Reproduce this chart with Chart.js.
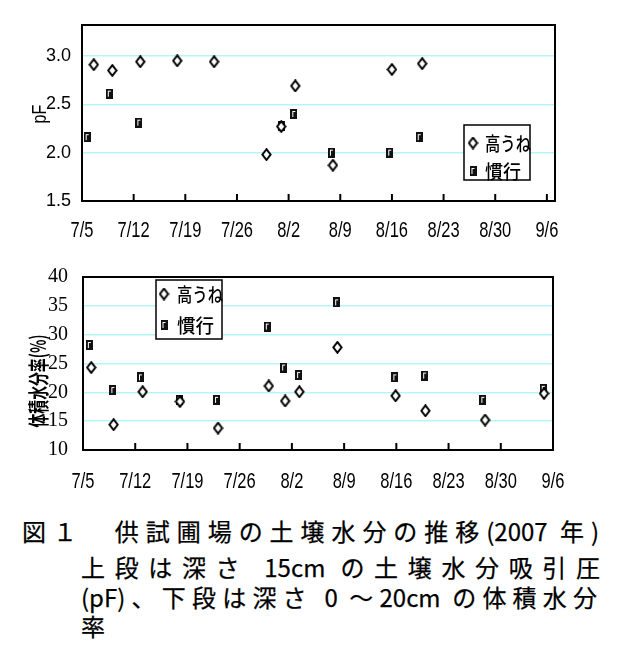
<!DOCTYPE html>
<html lang="ja">
<head>
<meta charset="utf-8">
<script src="https://cdn.jsdelivr.net/npm/chart.js@4.4.0/dist/chart.umd.min.js"></script>
<style>
body { margin: 0; background: #fff; width: 617px; height: 663px; position: relative; overflow: hidden; font-family: "Noto Sans CJK JP", sans-serif; }
.box { position: absolute; left: 0; width: 617px; }
#top { top: 0; height: 250px; }
#bot { top: 250px; height: 260px; }
.cap { position: absolute; font-size: 24px; line-height: 32px; color: #000; text-align: justify; text-align-last: justify; -webkit-text-stroke: 0.25px #000; white-space: nowrap; }
</style>
</head>
<body>
<div class="box" id="top"><canvas id="c1"></canvas></div>
<div class="box" id="bot"><canvas id="c2"></canvas></div>
<div class="cap" style="left:22px;top:515px;width:577px">図１　供試圃場の土壌水分の推移(2007 年)</div>
<div class="cap" style="left:81px;top:551px;width:519px">上段は深さ 15cm の土壌水分吸引圧</div>
<div class="cap" style="left:81px;top:581px;width:516px">(pF)、下段は深さ 0 ～20cm の体積水分</div>
<div class="cap" style="left:81px;top:610px;text-align:left;text-align-last:left">率</div>
<script>
// x は 7/5 からの日数
const xTickDays = [0, 7, 14, 21, 28, 35, 42, 49, 56, 63]
const xTickLabels = ['7/5', '7/12', '7/19', '7/26', '8/2', '8/9', '8/16', '8/23', '8/30', '9/6']

const seriesNames = ['高うね', '慣行']

// 上段 pF
const pfTicks = [1.5, 2.0, 2.5, 3.0]
const pfRidgeDays = [1.6, 4.1, 7.9, 12.9, 17.9, 25.0, 27.0, 28.9, 34.0, 42.0, 46.1]
const pfRidge = [2.91, 2.85, 2.94, 2.95, 2.94, 1.98, 2.27, 2.69, 1.87, 2.86, 2.92]
const pfConvDays = [0.7, 3.7, 7.7, 27.0, 28.7, 33.8, 41.7, 45.7]
const pfConv = [2.16, 2.61, 2.31, 2.28, 2.40, 2.00, 2.00, 2.16]

// 下段 体積水分率
const vwTicks = [10, 15, 20, 25, 30, 35, 40]
const vwRidgeDays = [1.1, 4.1, 8.0, 13.0, 18.1, 24.9, 27.1, 29.0, 34.1, 41.9, 45.9, 53.9, 61.8]
const vwRidge = [24.3, 14.4, 20.1, 18.4, 13.8, 21.1, 18.5, 20.1, 27.8, 19.4, 16.8, 15.2, 19.8]
const vwConvDays = [0.85, 4.0, 7.7, 12.9, 17.9, 24.7, 26.9, 28.9, 34.0, 41.8, 45.8, 53.6, 61.7]
const vwConv = [28.2, 20.4, 22.6, 18.7, 18.7, 31.4, 24.3, 23.0, 35.6, 22.6, 22.9, 18.7, 20.6]

const gridColor = '#b5f5fa'

function diamond() {
    const c = document.createElement('canvas')
    c.width = 11; c.height = 13
    const g = c.getContext('2d')
    g.beginPath()
    g.moveTo(5.5, 1.2); g.lineTo(9.6, 6.5); g.lineTo(5.5, 11.8); g.lineTo(1.4, 6.5); g.closePath()
    g.fillStyle = '#fff'; g.fill()
    g.strokeStyle = '#000'; g.lineWidth = 2; g.stroke()
    return c
}

function block() {
    const c = document.createElement('canvas')
    c.width = 7; c.height = 10
    const g = c.getContext('2d')
    g.fillStyle = '#111'; g.fillRect(0, 0, 7, 10)
    g.fillStyle = '#fff'
    g.fillRect(2, 2, 1, 6)
    g.fillRect(2, 2, 3, 1)
    return c
}

const markers = [diamond(), block()]

const extras = {
    id: 'extras',
    beforeDatasetsDraw(chart, args, o) {
        const { ctx, chartArea: a, scales: { x } } = chart
        ctx.save()
        ctx.strokeStyle = '#000'
        ctx.lineWidth = 2
        ctx.strokeRect(a.left, a.top, a.right - a.left, a.bottom - a.top)
        ctx.font = o.xFont
        ctx.fillStyle = '#000'
        ctx.textAlign = 'center'
        ctx.textBaseline = 'middle'
        x.ticks.forEach((t, i) => {
            const px = x.getPixelForValue(t.value)
            ctx.beginPath()
            ctx.moveTo(px, a.bottom)
            ctx.lineTo(px, a.bottom - 7)
            ctx.stroke()
            const w = ctx.measureText(xTickLabels[i]).width
            ctx.fillText(xTickLabels[i], px, a.bottom + o.xLabelOffset, w * 0.75)
        })
        // 縦軸タイトル
        ctx.translate(o.titleX, o.titleY)
        ctx.rotate(-Math.PI / 2)
        ctx.font = o.titleFont
        ctx.fillText(o.title, 0, 0, o.titleWidth)
        ctx.restore()
    },
    afterDraw(chart, args, o) {
        const ctx = chart.ctx
        const L = o.legend
        ctx.save()
        ctx.fillStyle = '#fff'
        ctx.fillRect(L.x, L.y, L.w, L.h)
        ctx.strokeStyle = '#000'
        ctx.lineWidth = 1.5
        ctx.strokeRect(L.x, L.y, L.w, L.h)
        ctx.font = '500 19px "Noto Sans CJK JP"'
        ctx.textBaseline = 'middle'
        ctx.fillStyle = '#000'
        chart.data.datasets.forEach((ds, i) => {
            const m = markers[i]
            const cy = L.y + L.rows[i]
            ctx.drawImage(m, L.x + L.mx - m.width / 2, cy - m.height / 2)
            ctx.fillText(ds.label, L.x + L.tx, cy + 1, L.textW[i])
        })
        ctx.restore()
    },
}

function makeChart(id, opt) {
    return new Chart(document.getElementById(id), {
        type: 'scatter',
        data: {
            datasets: [
                {
                    label: seriesNames[0],
                    data: opt.ridgeDays.map((d, i) => ({ x: d, y: opt.ridge[i] })),
                    pointStyle: markers[0],
                },
                {
                    label: seriesNames[1],
                    data: opt.convDays.map((d, i) => ({ x: d, y: opt.conv[i] })),
                    pointStyle: markers[1],
                },
            ],
        },
        options: {
            animation: false,
            responsive: true,
            maintainAspectRatio: false,
            devicePixelRatio: 1,
            events: [],
            layout: { padding: opt.padding },
            plugins: {
                legend: { display: false },
                tooltip: { enabled: false },
                extras: opt.extras,
            },
            scales: {
                x: {
                    type: 'linear',
                    min: 0,
                    max: opt.xMax,
                    afterBuildTicks: s => { s.ticks = xTickDays.map(v => ({ value: v })) },
                    afterFit: s => { s.height = opt.xHeight },
                    grid: { display: false, drawTicks: false },
                    border: { display: false },
                    ticks: { display: false },
                },
                y: {
                    type: 'linear',
                    min: opt.yTicks[0],
                    max: opt.yMax,
                    afterBuildTicks: s => { s.ticks = opt.yTicks.map(v => ({ value: v })) },
                    afterFit: s => { s.width = opt.yWidth },
                    grid: {
                        drawTicks: false,
                        lineWidth: 1.5,
                        color: c => (c.tick && c.tick.value > opt.yTicks[0] && c.tick.value < opt.yMax) ? gridColor : 'rgba(0,0,0,0)',
                    },
                    border: { display: false },
                    ticks: {
                        padding: opt.yPad,
                        color: '#000',
                        font: opt.yFont,
                        callback: opt.yFormat,
                    },
                },
            },
        },
        plugins: [extras],
    })
}

makeChart('c1', {
    ridgeDays: pfRidgeDays, ridge: pfRidge, convDays: pfConvDays, conv: pfConv,
    yTicks: pfTicks, yMax: 3.32, xMax: 64.1,
    padding: { left: 0, top: 25, right: 62, bottom: 0 },
    xHeight: 49, yWidth: 82, yPad: 11,
    yFont: { family: 'Liberation Sans', size: 18 },
    yFormat: v => v.toFixed(1),
    extras: {
        xFont: '22px "Liberation Sans"', xLabelOffset: 30,
        title: 'pF', titleX: 40, titleY: 114, titleWidth: 19, titleFont: '21px "Liberation Sans"',
        legend: { x: 464, y: 125, w: 66, h: 55, mx: 9, tx: 21, rows: [18, 46], textW: [46, 36] },
    },
})

makeChart('c2', {
    ridgeDays: vwRidgeDays, ridge: vwRidge, convDays: vwConvDays, conv: vwConv,
    yTicks: vwTicks, yMax: 40, xMax: 63,
    padding: { left: 0, top: 27, right: 64, bottom: 0 },
    xHeight: 60, yWidth: 83, yPad: 15,
    yFont: { family: 'Liberation Sans Narrow', size: 20 },
    yFormat: v => String(v),
    extras: {
        xFont: '22px "Liberation Sans"', xLabelOffset: 32,
        title: '体積水分率(%)', titleX: 38, titleY: 131, titleWidth: 93, titleFont: 'bold 21px "Noto Sans CJK JP"',
        legend: { x: 156, y: 30, w: 66, h: 59, mx: 8, tx: 21, rows: [14, 45], textW: [46, 37] },
    },
})
</script>
</body>
</html>
